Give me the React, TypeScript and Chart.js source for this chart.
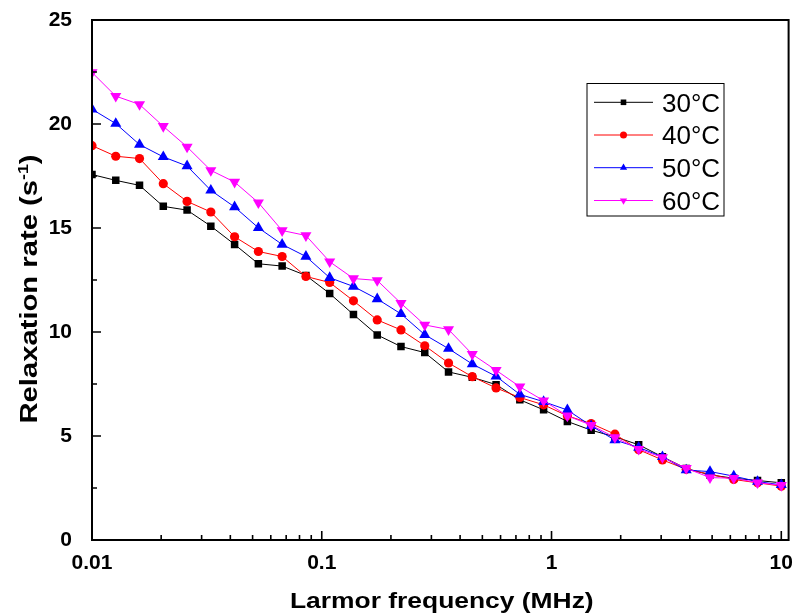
import React, { useEffect, useRef } from 'react';
import { Chart, registerables } from 'chart.js';

Chart.register(...registerables);

// Larmor frequency (MHz)
const frequencies = [
  0.01, 0.01269, 0.0161, 0.02043, 0.02593, 0.0329, 0.04175, 0.05298, 0.06723, 0.08532,
  0.10826, 0.13738, 0.17433, 0.22122, 0.28072, 0.35622, 0.45204, 0.57362, 0.7279, 0.92367,
  1.1721, 1.4874, 1.8874, 2.395, 3.0392, 3.8566, 4.8939, 6.2102, 7.8805, 10.0,
];

const seriesNames = ['30°C', '40°C', '50°C', '60°C'];

const rate30 = [
  17.57, 17.29, 17.05, 16.04, 15.86, 15.09, 14.21, 13.28, 13.17, 12.72,
  11.85, 10.84, 9.86, 9.3, 9.01, 8.08, 7.82, 7.47, 6.74, 6.26,
  5.7, 5.28, 4.96, 4.58, 4.0, 3.44, 3.13, 2.97, 2.86, 2.75,
];
const rate40 = [
  18.96, 18.45, 18.34, 17.13, 16.28, 15.77, 14.58, 13.87, 13.63, 12.67,
  12.38, 11.5, 10.58, 10.1, 9.34, 8.51, 7.85, 7.31, 6.85, 6.5,
  5.97, 5.6, 5.09, 4.34, 3.85, 3.4, 3.16, 2.91, 2.75, 2.59,
];
const rate50 = [
  20.71, 20.02, 19.01, 18.42, 17.98, 16.81, 16.01, 15.01, 14.21, 13.63,
  12.61, 12.19, 11.59, 10.87, 9.87, 9.2, 8.46, 7.87, 7.0, 6.65,
  6.25, 5.49, 4.8, 4.45, 4.0, 3.36, 3.29, 3.07, 2.81, 2.65,
];
const rate60 = [
  22.48, 21.34, 20.94, 19.89, 18.9, 17.77, 17.21, 16.22, 14.88, 14.64,
  13.38, 12.57, 12.48, 11.38, 10.34, 10.12, 8.93, 8.16, 7.37, 6.7,
  5.97, 5.52, 4.93, 4.37, 3.97, 3.45, 3.0, 2.97, 2.76, 2.63,
];

const seriesColors = ['#000000', '#FF0000', '#0000FF', '#FF00FF'];
const seriesMarkers = ['rect', 'circle', 'triangle', 'triangle'];
const markerRotations = [0, 0, 0, 180];

const xTickValues = [0.01, 0.1, 1, 10];
const xTickLabels = ['0.01', '0.1', '1', '10'];
const xMinorTicks = [
  0.02, 0.03, 0.04, 0.05, 0.06, 0.07, 0.08, 0.09,
  0.2, 0.3, 0.4, 0.5, 0.6, 0.7, 0.8, 0.9,
  2, 3, 4, 5, 6, 7, 8, 9,
];
const yTickValues = [0, 5, 10, 15, 20, 25];
const yMinorTicks = [2.5, 7.5, 12.5, 17.5, 22.5];

const xTitle = 'Larmor frequency (MHz)';
const yTitleMain = 'Relaxation rate (s';
const yTitleSup = '-1';
const yTitleEnd = ')';

const FONT = "'Liberation Sans', Arial, Helvetica, sans-serif";

function drawMarker(ctx: CanvasRenderingContext2D, style: string, rot: number, x: number, y: number, r: number, color: string) {
  ctx.save();
  ctx.fillStyle = color;
  ctx.beginPath();
  if (style === 'rect') {
    ctx.rect(x - r, y - r, 2 * r, 2 * r);
  } else if (style === 'circle') {
    ctx.arc(x, y, r, 0, Math.PI * 2);
  } else {
    const dir = rot === 180 ? 1 : -1;
    const h = r * 1.5;
    const w = r * Math.sqrt(3);
    ctx.moveTo(x, y + dir * r);
    ctx.lineTo(x - w / 2, y - dir * (h - r));
    ctx.lineTo(x + w / 2, y - dir * (h - r));
    ctx.closePath();
  }
  ctx.fill();
  ctx.restore();
}

const originPlugin = {
  id: 'originStyle',
  afterDatasetsDraw(chart: any) {
    const { ctx, chartArea: a, scales } = chart;
    const xs = scales.x;
    const ys = scales.y;
    ctx.save();
    ctx.strokeStyle = '#000';
    ctx.lineWidth = 1.6;
    ctx.beginPath();
    yTickValues.forEach((v) => {
      const p = ys.getPixelForValue(v);
      ctx.moveTo(a.left, p);
      ctx.lineTo(a.left + 9, p);
    });
    yMinorTicks.forEach((v) => {
      const p = ys.getPixelForValue(v);
      ctx.moveTo(a.left, p);
      ctx.lineTo(a.left + 5, p);
    });
    xTickValues.forEach((v) => {
      const p = xs.getPixelForValue(v);
      ctx.moveTo(p, a.bottom);
      ctx.lineTo(p, a.bottom - 9);
    });
    xMinorTicks.forEach((v) => {
      const p = xs.getPixelForValue(v);
      ctx.moveTo(p, a.bottom);
      ctx.lineTo(p, a.bottom - 5);
    });
    ctx.stroke();
    ctx.lineWidth = 2;
    ctx.strokeRect(a.left, a.top, a.right - a.left, a.bottom - a.top);
    ctx.restore();
  },
  afterDraw(chart: any) {
    const { ctx, chartArea: a } = chart;
    ctx.save();
    ctx.fillStyle = '#000';
    ctx.textBaseline = 'alphabetic';
    ctx.textAlign = 'left';

    // X axis title
    ctx.font = `bold 22px ${FONT}`;
    const xw = ctx.measureText(xTitle).width;
    ctx.save();
    ctx.translate((a.left + a.right) / 2 + 1.5, 608);
    ctx.scale(1.2, 1);
    ctx.fillText(xTitle, -xw / 2, 0);
    ctx.restore();

    // Y axis title
    ctx.save();
    ctx.font = `bold 23px ${FONT}`;
    const w1 = ctx.measureText(yTitleMain).width;
    const w3 = ctx.measureText(yTitleEnd).width;
    ctx.font = `bold 14px ${FONT}`;
    const w2 = ctx.measureText(yTitleSup).width;
    const total = w1 + w2 + w3;
    ctx.translate(36.5, 289);
    ctx.rotate(-Math.PI / 2);
    ctx.scale(1.27, 1);
    let cx = -total / 2;
    ctx.font = `bold 23px ${FONT}`;
    ctx.fillText(yTitleMain, cx, 0);
    cx += w1;
    ctx.font = `bold 14px ${FONT}`;
    ctx.fillText(yTitleSup, cx, -9);
    cx += w2;
    ctx.font = `bold 23px ${FONT}`;
    ctx.fillText(yTitleEnd, cx, 0);
    ctx.restore();

    // Legend
    const bx = 587, by = 83.5, bw = 137, bh = 132.5;
    ctx.lineWidth = 1;
    ctx.strokeStyle = '#000';
    ctx.strokeRect(bx, by, bw, bh);
    const rows = [102.3, 135, 167.7, 200.5];
    chart.data.datasets.forEach((ds: any, i: number) => {
      const ry = rows[i];
      ctx.strokeStyle = ds.borderColor;
      ctx.lineWidth = 1;
      ctx.beginPath();
      ctx.moveTo(594, ry);
      ctx.lineTo(653, ry);
      ctx.stroke();
      const st = seriesMarkers[i];
      const r = st === 'rect' ? 2.8 : st === 'circle' ? 3.5 : 4.2;
      drawMarker(ctx, st, markerRotations[i], 623.5, ry, r, ds.backgroundColor);
      ctx.fillStyle = '#000';
      ctx.font = `26px ${FONT}`;
      ctx.fillText(ds.label, 662, ry + 9.4);
    });
    ctx.restore();
  },
};

export default function App() {
  const canvasRef = useRef<HTMLCanvasElement | null>(null);

  useEffect(() => {
    const canvas = canvasRef.current;
    if (!canvas) return;
    const allRates = [rate30, rate40, rate50, rate60];
    const datasets = allRates.map((rates, i) => ({
      label: seriesNames[i],
      data: frequencies.map((f, k) => ({ x: f, y: rates[k] })),
      borderColor: seriesColors[i],
      backgroundColor: seriesColors[i],
      borderWidth: 1,
      pointStyle: seriesMarkers[i] as any,
      pointRotation: markerRotations[i],
      pointRadius: seriesMarkers[i] === 'rect' ? 5.3 : seriesMarkers[i] === 'circle' ? 4.6 : 6.4,
      pointBorderWidth: 0,
      pointBackgroundColor: seriesColors[i],
      pointBorderColor: seriesColors[i],
      tension: 0,
      fill: false,
      order: 4 - i,
    }));

    const chart = new Chart(canvas, {
      type: 'line',
      data: { datasets },
      plugins: [originPlugin],
      options: {
        animation: false,
        responsive: false,
        maintainAspectRatio: false,
        layout: { padding: { top: 20, right: 3, left: 0, bottom: 0 } },
        plugins: {
          legend: { display: false },
          tooltip: { enabled: false },
        },
        scales: {
          x: {
            type: 'logarithmic',
            position: 'bottom',
            min: 0.01,
            max: 10.76,
            grid: { display: false },
            border: { display: false },
            afterBuildTicks: (s: any) => {
              s.ticks = xTickValues.map((v) => ({ value: v }));
            },
            afterFit: (s: any) => {
              s.height = 75;
              s.paddingLeft = 0;
              s.paddingRight = 0;
            },
            ticks: {
              autoSkip: false,
              maxRotation: 0,
              minRotation: 0,
              padding: 3,
              color: '#000',
              font: { family: FONT, size: 21, weight: 'bold' },
              callback: (_v: any, idx: number) => xTickLabels[idx],
            },
          },
          y: {
            type: 'linear',
            min: 0,
            max: 25,
            grid: { display: false },
            border: { display: false },
            afterBuildTicks: (s: any) => {
              s.ticks = yTickValues.map((v) => ({ value: v }));
            },
            afterFit: (s: any) => {
              s.width = 92;
              s.paddingTop = 0;
              s.paddingBottom = 0;
            },
            ticks: {
              padding: 12,
              color: '#000',
              font: { family: FONT, size: 21, weight: 'bold' },
              callback: (v: any) => String(v),
            },
          },
        },
      } as any,
    });
    return () => chart.destroy();
  }, []);

  return (
    <div style={{ position: 'fixed', left: 0, top: 0, width: 795, height: 615, background: '#fff' }}>
      <canvas ref={canvasRef} width={795} height={615} style={{ display: 'block' }} />
    </div>
  );
}
